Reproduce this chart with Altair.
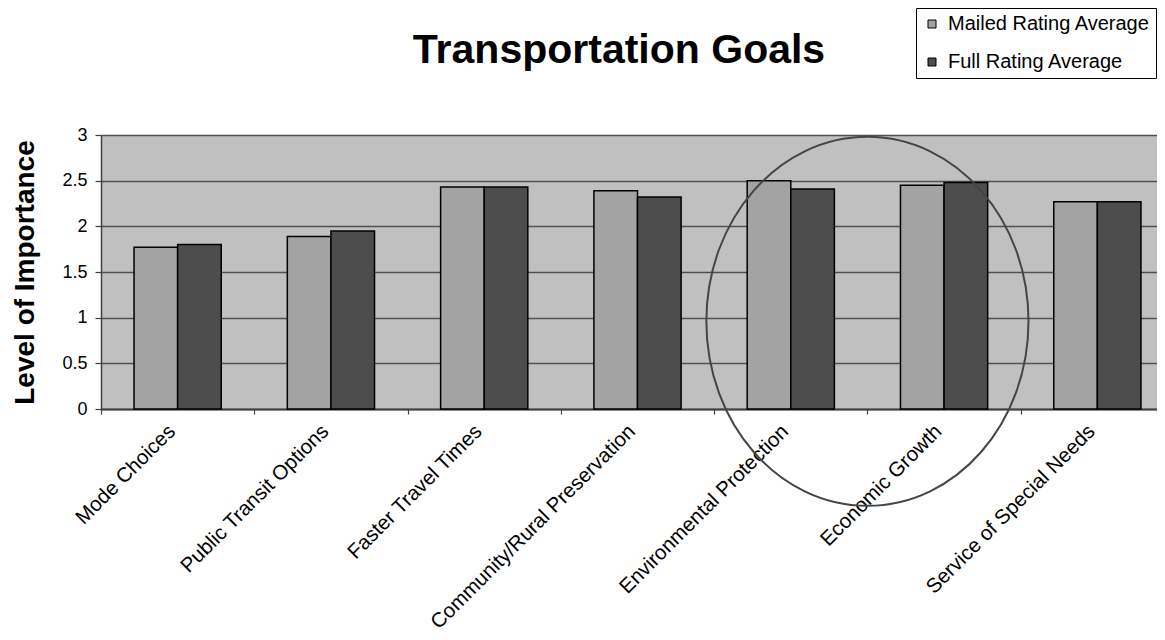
import altair as alt
import pandas as pd

categories = [
    "Mode Choices",
    "Public Transit Options",
    "Faster Travel Times",
    "Community/Rural Preservation",
    "Environmental Protection",
    "Economic Growth",
    "Service of Special Needs",
]
series = ["Mailed Rating Average", "Full Rating Average"]
mailed = [1.77, 1.89, 2.43, 2.39, 2.50, 2.45, 2.27]
full = [1.80, 1.95, 2.43, 2.32, 2.41, 2.48, 2.27]
series_colors = ["#a3a3a3", "#4d4d4d"]
y_ticks = [0, 0.5, 1, 1.5, 2, 2.5, 3]

# annotation: ellipse drawn around Environmental Protection / Economic Growth
ann_category = ["Economic Growth"]
ann_value = [0.96]

rows = []
for c, m, f in zip(categories, mailed, full):
    rows.append({"Goal": c, "Series": series[0], "Value": m})
    rows.append({"Goal": c, "Series": series[1], "Value": f})
df = pd.DataFrame(rows)
ann = pd.DataFrame({"Goal": ann_category, "Value": ann_value})

FONT = "Liberation Sans"

a, b, k = 0.873, 1.0, 0.5523
ellipse_path = (
    f"M {-a} 0 C {-a} {-k*b} {-k*a} {-b} 0 {-b} "
    f"C {k*a} {-b} {a} {-k*b} {a} 0 "
    f"C {a} {k*b} {k*a} {b} 0 {b} "
    f"C {-k*a} {b} {-a} {k*b} {-a} 0 Z"
)

x_scale = alt.Scale(paddingInner=0, paddingOuter=0, range=[0, 1073])

bars = alt.Chart(df).mark_bar(stroke="black", strokeWidth=1.5).encode(
    x=alt.X(
        "Goal:N",
        sort=categories,
        scale=x_scale,
        axis=alt.Axis(
            title=None,
            labelAngle=-45,
            labelAlign="right",
            labelBaseline="middle",
            tickBand="extent",
            tickSize=5,
            labelPadding=14,
            labelOffset=-6,
            labelFontSize=20.5,
            labelFont=FONT,
            labelColor="black",
            labelLimit=0,
            grid=False,
            domainColor="#404040",
            domainWidth=2,
            tickColor="#404040",
            tickWidth=1.2,
        ),
    ),
    xOffset=alt.XOffset(
        "Series:N", sort=series, scale=alt.Scale(paddingInner=0, paddingOuter=0.758)
    ),
    y=alt.Y(
        "Value:Q",
        scale=alt.Scale(domain=[0, 3], nice=False),
        axis=alt.Axis(
            values=y_ticks,
            format="~g",
            title="Level of Importance",
            titleFont=FONT,
            titleFontSize=28,
            titleFontWeight="bold",
            titleColor="black",
            titlePadding=22,
            labelFont=FONT,
            labelFontSize=18,
            labelColor="black",
            labelPadding=8,
            tickSize=6,
            tickColor="#404040",
            tickWidth=1.2,
            domainColor="#404040",
            domainWidth=1.5,
            gridColor="#505050",
            gridWidth=1.3,
        ),
    ),
    color=alt.Color(
        "Series:N",
        sort=series,
        scale=alt.Scale(domain=series, range=series_colors),
        legend=alt.Legend(
            title=None,
            orient="none",
            legendX=815,
            legendY=-127,
            strokeColor="black",
            fillColor="white",
            padding=6,
            symbolType="square",
            symbolSize=64,
            symbolStrokeColor="black",
            symbolStrokeWidth=1,
            labelFont=FONT,
            labelFontSize=20,
            labelColor="black",
            labelOffset=6,
            labelLimit=0,
            rowPadding=18,
        ),
    ),
)

ellipse = alt.Chart(ann).mark_point(
    shape=ellipse_path,
    size=136161,
    filled=False,
    stroke="#454545",
    strokeWidth=2,
    opacity=1,
).encode(
    x=alt.X("Goal:N", sort=categories, bandPosition=0),
    y=alt.Y("Value:Q"),
)

chart = (
    alt.layer(bars, ellipse)
    .properties(
        width=1056,
        height=274,
        title=alt.TitleParams(
            "Transportation Goals",
            font=FONT,
            fontSize=41,
            fontWeight="bold",
            color="black",
            anchor="middle",
            frame="group",
            baseline="alphabetic",
            dx=-10,
            offset=-96,
        ),
        autosize=alt.AutoSizeParams(type="none"),
        padding={"left": 93, "top": 127, "right": 0, "bottom": 223},
    )
    .configure_view(fill="#c0c0c0", stroke=None)
)

chart.save("out.html", embed_options={"renderer": "svg", "actions": False})
